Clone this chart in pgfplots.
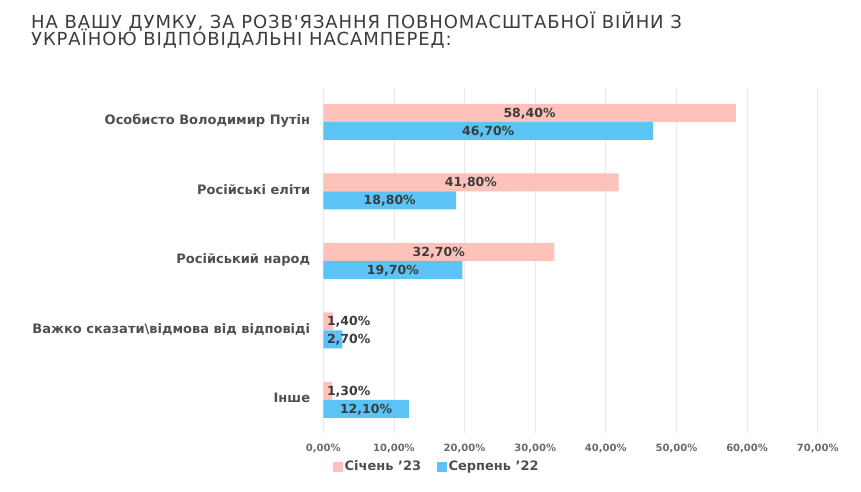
\documentclass[border=0pt]{standalone}
\usepackage{fontspec}
\setmainfont{DejaVu Sans}
\newfontfamily\titlefont{DejaVu Sans}[LetterSpace=5]
\usepackage{pgfplots}
\pgfplotsset{compat=1.18}
\definecolor{pinkbar}{HTML}{FFC2BA}
\definecolor{bluebar}{HTML}{5CC3F7}
\definecolor{txt}{HTML}{3C3C3C}
\definecolor{lab}{HTML}{4F4F4F}
\definecolor{tickc}{HTML}{6A6A6A}
\definecolor{gridc}{HTML}{E8E8E8}
\begin{document}
\begin{tikzpicture}
\begin{axis}[
  at={(323.3pt,59pt)}, anchor=south west,
  scale only axis, width=494.4pt, height=345pt,
  xmin=0, xmax=70, ymin=-0.489, ymax=4.475, y dir=reverse,
  axis line style={draw=none},
  major tick length=0pt,
  xmajorgrids, grid style={gridc, line width=0.8pt},
  xtick={0,10,20,30,40,50,60,70},
  xticklabels={{0,00\%},{10,00\%},{20,00\%},{30,00\%},{40,00\%},{50,00\%},{60,00\%},{70,00\%}},
  xticklabel style={anchor=base, inner sep=0pt, yshift=-18.9pt, text=tickc, font=\bfseries\fontsize{10}{11}\selectfont},
  ytick={0,1,2,3,4},
  yticklabels={Особисто Володимир Путін, Російські еліти, Російський народ, Важко сказати\textbackslash відмова від відповіді, Інше},
  yticklabel style={anchor=mid east, inner sep=0pt, xshift=-13pt, text=lab, font=\bfseries\fontsize{13}{15}\selectfont},
  legend style={at={(0.0136,-0.0977)}, anchor=west, draw=none, fill=none, legend columns=2,
    font=\bfseries\fontsize{13}{15}\selectfont, text=lab},
  clip=false,
]
\addplot[xbar, forget plot, bar width=0.259, bar shift=-0.1295, fill=pinkbar, draw=none]
  coordinates {(58.4,0) (41.8,1) (32.7,2) (1.4,3) (1.3,4)};
\addplot[xbar, forget plot, bar width=0.259, bar shift=0.1295, fill=bluebar, draw=none]
  coordinates {(46.7,0) (18.8,1) (19.7,2) (2.7,3) (12.1,4)};
% centred value labels
\addplot[forget plot, draw=none, mark=none, nodes near coords, point meta=explicit symbolic,
  nodes near coords style={anchor=base, inner sep=0pt, yshift=-4.5pt, text=txt, font=\bfseries\fontsize{12.5}{14}\selectfont}]
  coordinates {(29.2,-0.1295) [58,40\%] (20.9,0.8705) [41,80\%] (16.35,1.8705) [32,70\%]
               (23.35,0.1295) [46,70\%] (9.4,1.1295) [18,80\%] (9.85,2.1295) [19,70\%] (6.05,4.1295) [12,10\%]};
% small value labels
\addplot[forget plot, draw=none, mark=none, nodes near coords, point meta=explicit symbolic,
  nodes near coords style={anchor=base west, inner sep=0pt, yshift=-4.5pt, xshift=3.5pt, text=txt, font=\bfseries\fontsize{12.5}{14}\selectfont}]
  coordinates {(0,2.8705) [1,40\%] (0,3.1295) [2,70\%] (0,3.8705) [1,30\%]};
\addlegendimage{legend image code/.code={\fill[pinkbar] (0pt,-4pt) rectangle (9pt,5pt);}}
\addlegendentry{Січень ’23\hspace*{14pt}}
\addlegendimage{legend image code/.code={\fill[bluebar] (0pt,-4pt) rectangle (9pt,5pt);}}
\addlegendentry{Серпень ’22}
\end{axis}
\node[anchor=base west, inner sep=0, text=txt, font=\titlefont\fontsize{18}{20}\selectfont] at (31pt,463pt) {НА ВАШУ ДУМКУ, ЗА РОЗВ'ЯЗАННЯ ПОВНОМАСШТАБНОЇ ВІЙНИ З};
\node[anchor=base west, inner sep=0, text=txt, font=\titlefont\fontsize{18}{20}\selectfont] at (31pt,446pt) {УКРАЇНОЮ ВІДПОВІДАЛЬНІ НАСАМПЕРЕД:};
\pgfresetboundingbox
\path[use as bounding box] (0pt,0pt) rectangle (861pt,492pt);
\end{tikzpicture}
\end{document}
